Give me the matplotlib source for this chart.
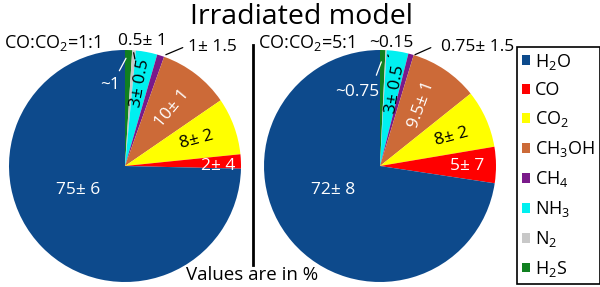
import matplotlib
matplotlib.use('Agg')
import matplotlib.pyplot as plt

plt.rcParams['font.family'] = ['Open Sans', 'DejaVu Sans']
plt.rcParams['mathtext.fontset'] = 'custom'
plt.rcParams['mathtext.rm'] = 'Open Sans'
plt.rcParams['mathtext.default'] = 'regular'

# species, in clockwise order from the top
species = ['H$_2$S', 'N$_2$', 'NH$_3$', 'CH$_4$', 'CH$_3$OH', 'CO$_2$', 'CO', 'H$_2$O']
colors = ['#108020', '#c8c8c8', '#00f0f0', '#7a1a8a', '#cc6a38', '#ffff00', '#ff0000', '#0d4a8c']

# CO:CO2 = 1:1
values_11 = [1, 0.5, 3, 1, 10, 8, 2, 75]
labels_11 = ['~1', '0.5± 1', '3± 0.5', '1± 1.5', '10± 1', '8± 2', '2± 4', '75± 6']
# CO:CO2 = 5:1
values_51 = [0.75, 0.15, 3, 0.75, 9.5, 8, 5, 72]
labels_51 = ['~0.75', '~0.15', '3± 0.5', '0.75± 1.5', '9.5± 1', '8± 2', '5± 7', '72± 8']

legend_order = [7, 6, 5, 4, 3, 2, 1, 0]

# label layout: (x, y, rotation, colour, line start, line end) in pie units
layout_11 = [
    (-0.13, 0.70, 0, 'white', (-0.06, 0.80), (0.02, 0.95)),
    (0.15, 1.08, 0, 'black', (0.07, 1.00), (0.09, 0.90)),
    (0.13, 0.71, 80, 'black', None, None),
    (0.75, 1.03, 0, 'black', (0.33, 0.95), (0.52, 1.03)),
    (0.41, 0.50, 50, 'white', None, None),
    (0.62, 0.23, 15, 'black', None, None),
    (0.80, 0.00, 0, 'white', None, None),
    (-0.40, -0.21, 0, 'white', None, None),
]
layout_51 = [
    (-0.20, 0.64, 0, 'white', (-0.04, 0.76), (0.02, 0.92)),
    (0.10, 1.06, 0, 'black', (0.06, 0.98), (0.08, 0.92)),
    (0.13, 0.66, 80, 'black', None, None),
    (0.84, 1.03, 0, 'black', (0.28, 0.95), (0.46, 1.03)),
    (0.36, 0.53, 70, 'white', None, None),
    (0.62, 0.25, 15, 'black', None, None),
    (0.75, 0.00, 0, 'white', None, None),
    (-0.40, -0.21, 0, 'white', None, None),
]

fig = plt.figure(figsize=(6, 2.87), dpi=100)


def draw_pie(rect, values, labels, layout):
    ax = fig.add_axes(rect)
    wedges, _ = ax.pie(values, colors=colors, startangle=90, counterclock=False,
                       radius=1, wedgeprops=dict(linewidth=0))
    ax.set_xlim(-1, 1)
    ax.set_ylim(-1, 1)
    ax.set_aspect('auto')
    ax.axis('off')
    for lab, (x, y, rot, col, p0, p1) in zip(labels, layout):
        ax.text(x, y, lab, ha='center', va='center', rotation=rot, color=col,
                fontsize=12.5, clip_on=False)
        if p0 is not None:
            ax.annotate('', xy=p1, xytext=p0, annotation_clip=False,
                        arrowprops=dict(arrowstyle='-', color=col, lw=0.9))
    return ax, wedges


ax1, wedges = draw_pie([9 / 600, 5 / 287, 232 / 600, 232 / 287], values_11, labels_11, layout_11)
ax2, _ = draw_pie([264 / 600, 5 / 287, 232 / 600, 232 / 287], values_51, labels_51, layout_51)

fig.text(52 / 600, 1 - 43 / 287, 'CO:CO$_2$=1:1', ha='center', va='center', fontsize=13)
fig.text(306 / 600, 1 - 43 / 287, 'CO:CO$_2$=5:1', ha='center', va='center', fontsize=13)
fig.text(302 / 600, 1 - 17 / 287, 'Irradiated model', ha='center', va='center', fontsize=20.5)
fig.text(252 / 600, 1 - 275 / 287, 'Values are in %', ha='center', va='center', fontsize=13.5)

# divider between the two pies
fig.add_artist(plt.Line2D([253 / 600, 253 / 600], [1 - 45 / 287, 1 - 265 / 287],
                          color='black', lw=2))

leg = fig.legend([wedges[i] for i in legend_order], [species[i] for i in legend_order],
                 loc='upper left', bbox_to_anchor=(517 / 600, 1 - 47 / 287),
                 borderaxespad=0, fontsize=13, handlelength=0.45, handleheight=0.45,
                 handletextpad=0.3, labelspacing=0.55, borderpad=0.25,
                 fancybox=False, edgecolor='black', framealpha=1)
leg.get_frame().set_linewidth(1.2)

fig.savefig('out.png', dpi=100)
